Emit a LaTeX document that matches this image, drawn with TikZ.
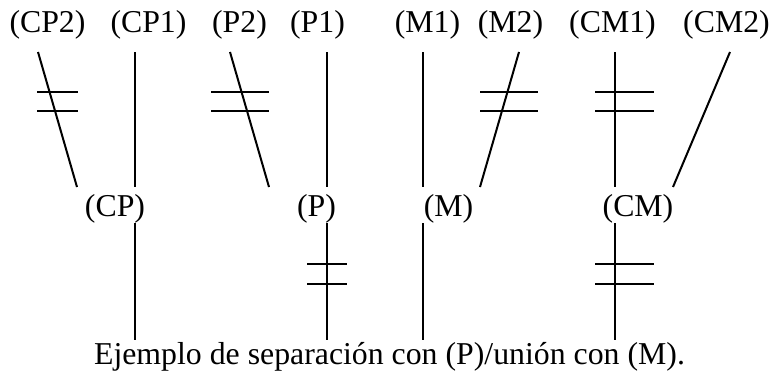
\documentclass[tikz,border=0pt]{standalone}
\usepackage{fontspec}
\setmainfont{Liberation Serif}
\begin{document}
\begin{tikzpicture}[x=1pt,y=-1pt,
  lbl/.style={anchor=base,inner sep=0pt,font=\fontsize{31.8}{38}\selectfont},
  ln/.style={line width=2pt}]
\useasboundingbox (0,0) rectangle (773,372);
% top labels
\node[lbl] (cp2) at (47.5,32) {(CP2)};
\node[lbl] (cp1) at (148.5,32) {(CP1)};
\node[lbl] (p2)  at (239.5,32) {(P2)};
\node[lbl] (p1)  at (317.5,32) {(P1)};
\node[lbl] (m1)  at (427.5,32) {(M1)};
\node[lbl] (m2)  at (510.5,32) {(M2)};
\node[lbl] (cm1) at (612.5,32) {(CM1)};
\node[lbl] (cm2) at (726.5,32) {(CM2)};
% middle labels
\node[lbl] (cp) at (115,216) {(CP)};
\node[lbl] (p)  at (316.5,216) {(P)};
\node[lbl] (m)  at (448.5,216) {(M)};
\node[lbl] (cm) at (638,216) {(CM)};
% caption
\node[lbl] (cap) at (389.5,364) {Ejemplo de separación con (P)/unión con (M).};
% line endpoints
\coordinate (cp2t) at (38,52);  \coordinate (cp2b) at (77,187);
\coordinate (cp1t) at (135,52); \coordinate (cp1b) at (135,187);
\coordinate (p2t) at (230,52);  \coordinate (p2b) at (269,187);
\coordinate (p1t) at (327,52);  \coordinate (p1b) at (327,187);
\coordinate (m1t) at (423,52);  \coordinate (m1b) at (423,187);
\coordinate (m2t) at (519,52);  \coordinate (m2b) at (480,187);
\coordinate (cm1t) at (615,52); \coordinate (cm1b) at (615,187);
\coordinate (cm2t) at (730,52); \coordinate (cm2b) at (673,187);
\coordinate (cpt) at (135,223); \coordinate (cpb) at (135,340);
\coordinate (pt) at (327,223);  \coordinate (pb) at (327,340);
\coordinate (mt) at (423,223);  \coordinate (mb) at (423,340);
\coordinate (cmt) at (615,223); \coordinate (cmb) at (615,340);
% upper connectors
\draw[ln] (cp2t) -- (cp2b);
\draw[ln] (cp1t) -- (cp1b);
\draw[ln] (p2t) -- (p2b);
\draw[ln] (p1t) -- (p1b);
\draw[ln] (m1t) -- (m1b);
\draw[ln] (m2t) -- (m2b);
\draw[ln] (cm1t) -- (cm1b);
\draw[ln] (cm2t) -- (cm2b);
% lower connectors
\draw[ln] (cpt) -- (cpb);
\draw[ln] (pt) -- (pb);
\draw[ln] (mt) -- (mb);
\draw[ln] (cmt) -- (cmb);
% double bars
\draw[ln] (37,92) -- (78,92) (37,111) -- (78,111);
\draw[ln] (211,92) -- (269,92) (211,111) -- (269,111);
\draw[ln] (480,92) -- (538,92) (480,111) -- (538,111);
\draw[ln] (595,92) -- (654,92) (595,111) -- (654,111);
\draw[ln] (307,264) -- (347,264) (307,284) -- (347,284);
\draw[ln] (595,264) -- (654,264) (595,284) -- (654,284);
\end{tikzpicture}
\end{document}
